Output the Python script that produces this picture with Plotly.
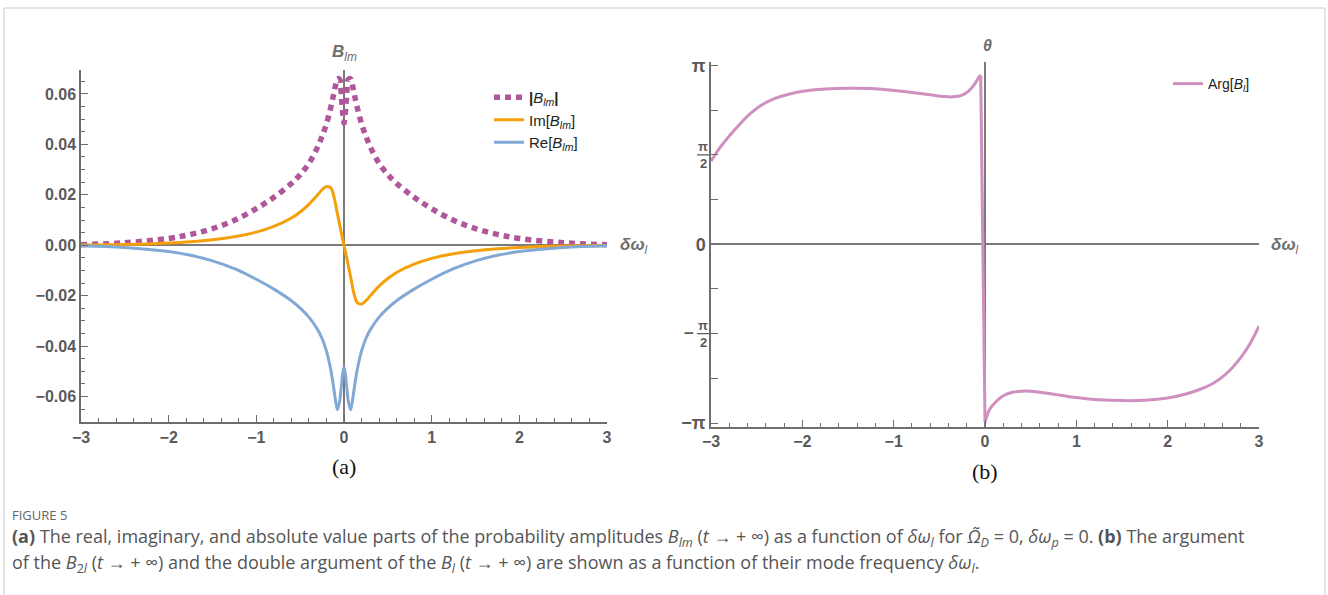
import math
import plotly.graph_objects as go

W, H = 1328, 595
PI = math.pi


def px(x):
    return x / W


def py(y):
    return 1 - y / H


# ---------------- data ----------------
delta_a = [-3, -2.5, -2, -1.75, -1.5, -1.25, -1, -0.8, -0.6, -0.5, -0.4, -0.3, -0.25, -0.2,
           -0.15, -0.12, -0.1, -0.075, -0.05, -0.03, -0.015, 0,
           0.015, 0.03, 0.05, 0.075, 0.1, 0.12, 0.15, 0.2, 0.25, 0.3, 0.4, 0.5, 0.6, 0.8,
           1, 1.25, 1.5, 1.75, 2, 2.5, 3]

abs_B = [0.0002, 0.0010, 0.0027, 0.0043, 0.0066, 0.0099, 0.0145, 0.0190, 0.0245, 0.0280,
         0.0325, 0.0390, 0.0432, 0.0482, 0.0548, 0.0595, 0.0628, 0.0660, 0.0658, 0.0590,
         0.0525, 0.0484,
         0.0525, 0.0590, 0.0658, 0.0660, 0.0628, 0.0595, 0.0548, 0.0482, 0.0432, 0.0390,
         0.0325, 0.0280, 0.0245, 0.0190, 0.0145, 0.0099, 0.0066, 0.0043, 0.0027, 0.0010,
         0.0002]

im_B = [0.0001, 0.0003, 0.0009, 0.0014, 0.0022, 0.0034, 0.0052, 0.0075, 0.0108, 0.0132,
        0.0162, 0.0200, 0.0220, 0.0233, 0.0228, 0.0200, 0.0170, 0.0125, 0.0082, 0.0048,
        0.0024, 0.0,
        -0.0024, -0.0048, -0.0082, -0.0125, -0.0170, -0.0200, -0.0228, -0.0233, -0.0220,
        -0.0200, -0.0162, -0.0132, -0.0108, -0.0075, -0.0052, -0.0034, -0.0022, -0.0014,
        -0.0009, -0.0003, -0.0001]

re_B = [-0.0002, -0.0009, -0.0025, -0.0040, -0.0062, -0.0093, -0.0135, -0.0174, -0.0220,
        -0.0249, -0.0285, -0.0335, -0.0370, -0.0420, -0.0495, -0.0560, -0.0608, -0.0652,
        -0.0620, -0.0560, -0.0510, -0.0484,
        -0.0510, -0.0560, -0.0620, -0.0652, -0.0608, -0.0560, -0.0495, -0.0420, -0.0370,
        -0.0335, -0.0285, -0.0249, -0.0220, -0.0174, -0.0135, -0.0093, -0.0062, -0.0040,
        -0.0025, -0.0009, -0.0002]

delta_b = [-3, -2.9, -2.8, -2.7, -2.6, -2.45, -2.3, -2.15, -2.0, -1.75, -1.5, -1.25, -1.0,
           -0.8, -0.6, -0.45, -0.35, -0.25, -0.18, -0.12, -0.08, -0.06, -0.047, -0.04,
           -0.03, -0.02, -0.01, 0, 0.02, 0.05, 0.1, 0.15, 0.2, 0.3, 0.4, 0.5, 0.7, 1.0,
           1.25, 1.5, 1.75, 2.0, 2.2, 2.35, 2.5, 2.6, 2.7, 2.8, 2.9, 3.0]

arg_B = [1.46, 1.70, 1.90, 2.08, 2.25, 2.44, 2.56, 2.635, 2.685, 2.725, 2.74, 2.735, 2.70,
         2.665, 2.625, 2.595, 2.588, 2.62, 2.69, 2.80, 2.90, 2.95, 2.966, 2.06,
         0.77, -0.53, -1.82, -3.12, -3.02, -2.90, -2.80, -2.72, -2.66, -2.60, -2.58,
         -2.58, -2.62, -2.69, -2.73, -2.745, -2.74, -2.70, -2.63, -2.55, -2.44, -2.33,
         -2.18, -1.99, -1.75, -1.44]

y_ticks_a = [-0.06, -0.04, -0.02, 0.0, 0.02, 0.04, 0.06]
y_ticks_b = [-PI, -PI / 2, 0, PI / 2, PI]
y_ticktext_b = ["\u2212\u03c0", "", "0", "", "\u03c0"]

# ---------------- styles ----------------
AX = "#6e6e6e"
TXT = "#5a5a5a"
SANS = "Liberation Sans, Arial"
TICKFONT = dict(family=SANS, size=16, color=TXT, weight="bold")
LBL = "#6e6e6e"

fig = go.Figure()

fig.add_trace(go.Scatter(
    x=delta_a, y=abs_B, mode="lines",
    name="<b>|</b><i>B</i><sub><i>lm</i></sub><b>|</b>",
    line=dict(color="#b0579c", width=5.5, dash="6px,5px", shape="spline"),
    xaxis="x", yaxis="y", legend="legend"))
fig.add_trace(go.Scatter(
    x=delta_a, y=im_B, mode="lines",
    name="Im[<i>B</i><sub><i>lm</i></sub>]",
    line=dict(color="#f5a00a", width=3, shape="spline"),
    xaxis="x", yaxis="y", legend="legend"))
fig.add_trace(go.Scatter(
    x=delta_a, y=re_B, mode="lines",
    name="Re[<i>B</i><sub><i>lm</i></sub>]",
    line=dict(color="#82a9d5", width=3, shape="spline"),
    xaxis="x", yaxis="y", legend="legend"))

# Arg curve: smooth branches joined by the steep drop near zero
i_top = delta_b.index(-0.047)
i_bot = delta_b.index(0)
ARG_COLOR = "#cf90c0"
fig.add_trace(go.Scatter(
    x=delta_b[:i_top + 1], y=arg_B[:i_top + 1], mode="lines", legendgroup="arg",
    name="Arg[<i>B</i><sub><i>l</i></sub>]",
    line=dict(color=ARG_COLOR, width=3, shape="spline"),
    xaxis="x2", yaxis="y2", legend="legend2"))
fig.add_trace(go.Scatter(
    x=delta_b[i_top:i_bot + 1], y=arg_B[i_top:i_bot + 1], mode="lines", legendgroup="arg",
    showlegend=False, line=dict(color=ARG_COLOR, width=3, shape="linear"),
    xaxis="x2", yaxis="y2", legend="legend2"))
fig.add_trace(go.Scatter(
    x=delta_b[i_bot:], y=arg_B[i_bot:], mode="lines", legendgroup="arg",
    showlegend=False, line=dict(color=ARG_COLOR, width=3, shape="spline"),
    xaxis="x2", yaxis="y2", legend="legend2"))

common_x = dict(range=[-3, 3], tick0=0, dtick=1, showline=True, linecolor=AX, linewidth=1.5,
                ticks="inside", ticklen=7, tickwidth=1.3, tickcolor=AX,
                minor=dict(tick0=0, dtick=0.2, ticks="inside", ticklen=4, tickcolor=AX, tickwidth=1),
                zeroline=True, zerolinecolor="#7a7a7a", zerolinewidth=2,
                showgrid=False, tickfont=TICKFONT, fixedrange=True)

fig.update_layout(
    width=W, height=H,
    margin=dict(l=0, r=0, t=0, b=0, autoexpand=False),
    paper_bgcolor="white", plot_bgcolor="white",
    xaxis=dict(domain=[px(81), px(607)], anchor="y", **common_x),
    yaxis=dict(domain=[py(421.75), py(70)], anchor="x", range=[-0.07, 0.0695],
               tickmode="array", tickvals=y_ticks_a, tickformat=".2f",
               showline=True, linecolor=AX, linewidth=1.5,
               ticks="inside", ticklen=7, tickwidth=1.3, tickcolor=AX,
               minor=dict(tick0=0, dtick=0.005, ticks="inside", ticklen=4, tickcolor=AX, tickwidth=1),
               zeroline=True, zerolinecolor="#7a7a7a", zerolinewidth=2,
               showgrid=False, tickfont=TICKFONT, fixedrange=True),
    xaxis2=dict(domain=[px(711), px(1259)], anchor="y2", **common_x),
    yaxis2=dict(domain=[py(426.5), py(62)], anchor="x2", range=[-3.2, 3.2],
                tickmode="array", tickvals=y_ticks_b, ticktext=y_ticktext_b,
                showline=True, linecolor=AX, linewidth=1.5,
                ticks="inside", ticklen=7, tickwidth=1.3, tickcolor=AX,
                minor=dict(tick0=0, dtick=PI / 4, ticks="inside", ticklen=7, tickcolor=AX, tickwidth=1),
                zeroline=True, zerolinecolor="#7a7a7a", zerolinewidth=2,
                showgrid=False, tickfont=dict(family=SANS, size=18, color=TXT, weight="bold"),
                fixedrange=True),
    legend=dict(x=px(489), y=py(81), xanchor="left", yanchor="top",
                bgcolor="rgba(0,0,0,0)", borderwidth=0, tracegroupgap=0,
                font=dict(family=SANS, size=15, color="#222")),
    legend2=dict(x=px(1168), y=py(68), xanchor="left", yanchor="top",
                 bgcolor="rgba(0,0,0,0)", borderwidth=0,
                 font=dict(family=SANS, size=14, color="#222")),
    showlegend=True,
)


def note(x, y, text, size, color=LBL, family=SANS, xanchor="center", **kw):
    d = dict(x=px(x), y=py(y), xref="paper", yref="paper", showarrow=False,
             xanchor=xanchor, yanchor="middle", text=text,
             font=dict(family=family, size=size, color=color))
    d.update(kw)
    return d


ann = []
# axis labels
ann.append(note(344.5, 53, "<b><i>B</i></b><sub><i>lm</i></sub>", 17))
ann.append(note(618, 246, "<b><i>δω</i></b><sub><i>l</i></sub>", 17, xanchor="left"))
ann.append(note(1269, 246, "<b><i>δω</i></b><sub><i>l</i></sub>", 17, xanchor="left"))
ann.append(note(987, 46, "<b><i>θ</i></b>", 16))
# fractional tick labels pi/2, -pi/2
for val, sign in ((PI / 2, ""), (-PI / 2, "\u2212")):
    ann.append(dict(x=px(703), y=val, xref="paper", yref="y2", showarrow=False, yshift=8,
                    xanchor="center", yanchor="middle",
                    text="<b>π</b>", font=dict(family=SANS, size=13, color=TXT)))
    ann.append(dict(x=px(703), y=val, xref="paper", yref="y2", showarrow=False, yshift=-9,
                    xanchor="center", yanchor="middle",
                    text="<b>2</b>", font=dict(family=SANS, size=13, color=TXT)))
    if sign:
        ann.append(dict(x=px(689), y=val, xref="paper", yref="y2", showarrow=False,
                        xanchor="center", yanchor="middle",
                        text="<b>" + sign + "</b>", font=dict(family=SANS, size=17, color=TXT)))
# panel labels
ann.append(note(344, 466, "(a)", 22, color="#111", family="Liberation Serif, Times New Roman"))
ann.append(note(985, 471, "(b)", 22, color="#111", family="Liberation Serif, Times New Roman"))
# caption
ann.append(note(10, 515, "FIGURE 5", 13, color="#666", family="Open Sans", xanchor="left"))
line1 = ("<b>(a)</b> The real, imaginary, and absolute value parts of the probability amplitudes "
         "<i>B</i><sub><i>lm</i></sub> (<i>t</i> → + ∞) as a function of <i>δω</i><sub><i>l</i></sub> "
         "for <i>Ω̃</i><sub><i>D</i></sub> = 0, <i>δω</i><sub><i>p</i></sub> = 0. <b>(b)</b> The argument")
line2 = ("of the <i>B</i><sub>2<i>l</i></sub> (<i>t</i> → + ∞) and the double argument of the "
         "<i>B</i><sub><i>l</i></sub> (<i>t</i> → + ∞) are shown as a function of their mode frequency "
         "<i>δω</i><sub><i>l</i></sub>.")
ann.append(note(10, 537, line1, 18, color="#555", family="Open Sans", xanchor="left"))
ann.append(note(10, 563, line2, 18, color="#555", family="Open Sans", xanchor="left"))
fig.update_layout(annotations=ann)

shapes = [
    dict(type="rect", xref="paper", yref="paper", x0=px(4), x1=px(1325), y0=py(605), y1=py(8),
         line=dict(color="#c8c8c8", width=1), fillcolor="rgba(0,0,0,0)", layer="below"),
]
for val in (PI / 2, -PI / 2):
    shapes.append(dict(type="line", xref="paper", yref="y2", x0=px(697), x1=px(709), y0=val, y1=val,
                       line=dict(color=TXT, width=1.3)))
fig.update_layout(shapes=shapes)

fig.write_html("out.html")
